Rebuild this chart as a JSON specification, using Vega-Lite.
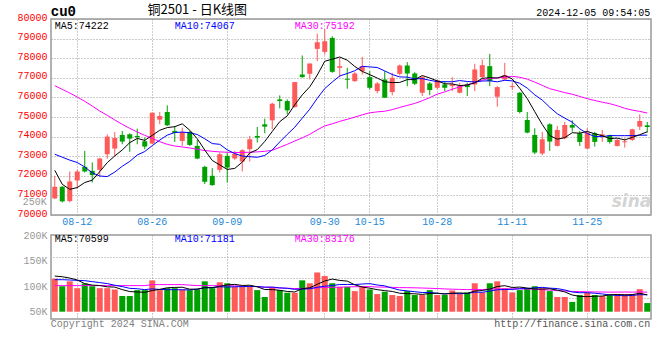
{
"$schema": "https://vega.github.io/schema/vega-lite/v6.json",
"background": "white",
"padding": {"left": 16, "top": 3, "right": 4, "bottom": 4},
"datasets": {"k": [
{"d":"08-07","o":70847,"h":72000,"l":70813,"c":71440,"m5":72280,"m10":73100,"m30":76600,"v":114500,"v5":119700,"v10":112600,"v30":101000},
{"d":"08-08","o":71440,"h":71475,"l":70643,"c":70694,"m5":71565,"m10":72950,"m30":76410,"v":99800,"v5":118400,"v10":112600,"v30":101000},
{"d":"08-09","o":70711,"h":72220,"l":70643,"c":71711,"m5":71310,"m10":72800,"m30":76225,"v":109400,"v5":115800,"v10":112000,"v30":101000},
{"d":"08-12","o":71762,"h":72305,"l":71338,"c":72220,"m5":71400,"m10":72680,"m30":76020,"v":96000,"v5":112000,"v10":111300,"v30":101000},
{"d":"08-13","o":72458,"h":73271,"l":72170,"c":72220,"m5":71657,"m10":72450,"m30":75800,"v":105000,"v5":104900,"v10":110700,"v30":101000},
{"d":"08-14","o":72254,"h":72678,"l":71661,"c":72034,"m5":71776,"m10":72150,"m30":75560,"v":99800,"v5":102000,"v10":108800,"v30":101000},
{"d":"08-15","o":72305,"h":72915,"l":71949,"c":72881,"m5":72213,"m10":71990,"m30":75305,"v":96000,"v5":101200,"v10":106900,"v30":101000},
{"d":"08-16","o":73101,"h":74118,"l":72881,"c":74000,"m5":72671,"m10":71960,"m30":75085,"v":96000,"v5":98600,"v10":105000,"v30":101000},
{"d":"08-19","o":73390,"h":74237,"l":73017,"c":73932,"m5":73013,"m10":72190,"m30":74850,"v":93500,"v5":98100,"v10":101800,"v30":101000},
{"d":"08-20","o":74084,"h":74288,"l":73610,"c":73746,"m5":73319,"m10":72488,"m30":74625,"v":80700,"v5":93200,"v10":99100,"v30":101000},
{"d":"08-21","o":74118,"h":74169,"l":73220,"c":73898,"m5":73691,"m10":72734,"m30":74420,"v":80700,"v5":89400,"v10":95700,"v30":101000},
{"d":"08-22","o":74034,"h":74407,"l":73610,"c":73966,"m5":73908,"m10":73061,"m30":74235,"v":92200,"v5":88600,"v10":94900,"v30":101000},
{"d":"08-23","o":73763,"h":73949,"l":73356,"c":73492,"m5":73807,"m10":73239,"m30":74065,"v":92200,"v5":87900,"v10":93200,"v30":101000},
{"d":"08-26","o":73644,"h":75220,"l":73610,"c":75220,"m5":74064,"m10":73539,"m30":73910,"v":111300,"v5":91400,"v10":94700,"v30":103000},
{"d":"08-27","o":74864,"h":75254,"l":74627,"c":75051,"m5":74325,"m10":73822,"m30":73740,"v":92200,"v5":93700,"v10":93500,"v30":103000},
{"d":"08-28","o":75254,"h":75593,"l":74542,"c":74576,"m5":74461,"m10":74076,"m30":73605,"v":96000,"v5":96800,"v10":93100,"v30":103000},
{"d":"08-29","o":74288,"h":74542,"l":73729,"c":74186,"m5":74505,"m10":74207,"m30":73520,"v":96000,"v5":97500,"v10":93100,"v30":103000},
{"d":"08-30","o":73780,"h":74457,"l":73525,"c":74237,"m5":74654,"m10":74230,"m30":73470,"v":93500,"v5":97800,"v10":92800,"v30":103000},
{"d":"09-02","o":74237,"h":74288,"l":73525,"c":73576,"m5":74325,"m10":74195,"m30":73420,"v":92200,"v5":94000,"v10":92700,"v30":102000},
{"d":"09-03","o":73525,"h":73830,"l":72847,"c":72881,"m5":73891,"m10":74108,"m30":73350,"v":93500,"v5":94200,"v10":94000,"v30":101000},
{"d":"09-04","o":72457,"h":72508,"l":71576,"c":71694,"m5":73315,"m10":73888,"m30":73290,"v":109400,"v5":96900,"v10":96900,"v30":101000},
{"d":"09-05","o":72000,"h":72390,"l":71491,"c":71525,"m5":72783,"m10":73644,"m30":73250,"v":96000,"v5":96900,"v10":97200,"v30":101000},
{"d":"09-06","o":72305,"h":73186,"l":72170,"c":73101,"m5":72555,"m10":73605,"m30":73220,"v":107500,"v5":99700,"v10":98800,"v30":101000},
{"d":"09-09","o":73017,"h":73186,"l":71661,"c":72423,"m5":72325,"m10":73325,"m30":73200,"v":105600,"v5":102400,"v10":98200,"v30":101000},
{"d":"09-10","o":72881,"h":73271,"l":72813,"c":73135,"m5":72376,"m10":73133,"m30":73190,"v":98600,"v5":103400,"v10":98800,"v30":100500},
{"d":"09-11","o":72728,"h":73356,"l":72220,"c":73305,"m5":72698,"m10":73006,"m30":73190,"v":98600,"v5":101300,"v10":99100,"v30":100000},
{"d":"09-12","o":73356,"h":74034,"l":72728,"c":73864,"m5":73166,"m10":72974,"m30":73200,"v":98600,"v5":101800,"v10":99400,"v30":99500},
{"d":"09-13","o":74034,"h":74491,"l":73695,"c":73949,"m5":73335,"m10":72945,"m30":73220,"v":92200,"v5":98700,"v10":99200,"v30":99000},
{"d":"09-18","o":74627,"h":74915,"l":74169,"c":74508,"m5":73752,"m10":73039,"m30":73250,"v":78800,"v5":93400,"v10":97900,"v30":98000},
{"d":"09-19","o":74830,"h":75729,"l":74373,"c":75678,"m5":74261,"m10":73318,"m30":73305,"v":97900,"v5":93200,"v10":98300,"v30":97100},
{"d":"09-20","o":75898,"h":76102,"l":75441,"c":75813,"m5":74762,"m10":73730,"m30":73451,"v":92200,"v5":91900,"v10":96600,"v30":96400},
{"d":"09-23","o":75813,"h":75898,"l":75135,"c":75339,"m5":75057,"m10":74112,"m30":73605,"v":87100,"v5":89600,"v10":95700,"v30":96000},
{"d":"09-24","o":75508,"h":76780,"l":75474,"c":76780,"m5":75624,"m10":74479,"m30":73774,"v":87100,"v5":88600,"v10":93700,"v30":95200},
{"d":"09-25","o":77169,"h":78136,"l":77000,"c":77034,"m5":76129,"m10":74941,"m30":73935,"v":111300,"v5":95100,"v10":94200,"v30":95700},
{"d":"09-26","o":77203,"h":77729,"l":76915,"c":77729,"m5":76539,"m10":75400,"m30":74118,"v":105600,"v5":96700,"v10":94900,"v30":95700},
{"d":"09-27","o":78475,"h":79254,"l":77847,"c":78814,"m5":77139,"m10":75951,"m30":74344,"v":126700,"v5":103600,"v10":97800,"v30":96600},
{"d":"09-30","o":78322,"h":79492,"l":78186,"c":78864,"m5":77844,"m10":76451,"m30":74544,"v":119700,"v5":110100,"v10":99900,"v30":97400},
{"d":"10-08","o":79034,"h":79119,"l":77254,"c":77305,"m5":77949,"m10":76786,"m30":74654,"v":105600,"v5":113800,"v10":101200,"v30":97800},
{"d":"10-09","o":77508,"h":78017,"l":77034,"c":77593,"m5":78061,"m10":77095,"m30":74776,"v":98600,"v5":111200,"v10":103200,"v30":97900},
{"d":"10-10","o":76949,"h":77508,"l":76441,"c":76900,"m5":77898,"m10":77219,"m30":74882,"v":98600,"v5":109800,"v10":103300,"v30":98500},
{"d":"10-11","o":76830,"h":77288,"l":76797,"c":77220,"m5":77579,"m10":77359,"m30":74992,"v":90300,"v5":102600,"v10":103100,"v30":98800},
{"d":"10-14","o":77339,"h":78068,"l":77170,"c":77593,"m5":77325,"m10":77585,"m30":75113,"v":98600,"v5":98300,"v10":104200,"v30":99100},
{"d":"10-15","o":77034,"h":77339,"l":76407,"c":76491,"m5":77162,"m10":77556,"m30":75213,"v":93500,"v5":95900,"v10":104900,"v30":99100},
{"d":"10-16","o":76322,"h":76780,"l":76203,"c":76712,"m5":76986,"m10":77524,"m30":75263,"v":84500,"v5":93100,"v10":102200,"v30":98200},
{"d":"10-17","o":76915,"h":77339,"l":75983,"c":75983,"m5":76800,"m10":77349,"m30":75294,"v":89000,"v5":91200,"v10":100500,"v30":98100},
{"d":"10-18","o":76271,"h":77254,"l":76102,"c":77000,"m5":76756,"m10":77168,"m30":75375,"v":82600,"v5":89600,"v10":96100,"v30":97600},
{"d":"10-21","o":77203,"h":77678,"l":77119,"c":77627,"m5":76763,"m10":77044,"m30":75490,"v":80700,"v5":86100,"v10":92200,"v30":97100},
{"d":"10-22","o":77627,"h":77797,"l":76576,"c":77220,"m5":76908,"m10":77035,"m30":75589,"v":90300,"v5":85400,"v10":90700,"v30":97000},
{"d":"10-23","o":77220,"h":77288,"l":76627,"c":76695,"m5":76905,"m10":76946,"m30":75693,"v":82600,"v5":85000,"v10":89100,"v30":96700},
{"d":"10-24","o":76237,"h":77085,"l":76068,"c":77034,"m5":77115,"m10":76958,"m30":75831,"v":82600,"v5":83800,"v10":87500,"v30":96300},
{"d":"10-25","o":76712,"h":76780,"l":76119,"c":76373,"m5":76990,"m10":76873,"m30":75987,"v":92200,"v5":85700,"v10":87700,"v30":95800},
{"d":"10-28","o":76491,"h":76915,"l":76407,"c":76881,"m5":76841,"m10":76802,"m30":76166,"v":82600,"v5":86100,"v10":86100,"v30":95300},
{"d":"10-29","o":76661,"h":76830,"l":76322,"c":76491,"m5":76695,"m10":76802,"m30":76279,"v":82600,"v5":84500,"v10":85000,"v30":94500},
{"d":"10-30","o":76576,"h":77034,"l":76322,"c":76661,"m5":76688,"m10":76797,"m30":76420,"v":91500,"v5":86300,"v10":85700,"v30":94000},
{"d":"10-31","o":76237,"h":76746,"l":76203,"c":76610,"m5":76603,"m10":76859,"m30":76536,"v":84500,"v5":86700,"v10":85200,"v30":93600},
{"d":"11-01","o":76661,"h":76746,"l":76068,"c":76525,"m5":76634,"m10":76812,"m30":76643,"v":87700,"v5":85800,"v10":85700,"v30":93200},
{"d":"11-04","o":76661,"h":77712,"l":76322,"c":77424,"m5":76742,"m10":76791,"m30":76762,"v":105600,"v5":90400,"v10":88200,"v30":93400},
{"d":"11-05","o":77034,"h":77932,"l":76915,"c":77644,"m5":76973,"m10":76834,"m30":76885,"v":87700,"v5":91400,"v10":88000,"v30":93300},
{"d":"11-06","o":77593,"h":78220,"l":76576,"c":76830,"m5":77007,"m10":76847,"m30":76963,"v":105600,"v5":94200,"v10":90300,"v30":94200},
{"d":"11-07","o":76034,"h":76576,"l":75525,"c":76525,"m5":76990,"m10":76796,"m30":76991,"v":109400,"v5":99200,"v10":92900,"v30":94600},
{"d":"11-08","o":76915,"h":77763,"l":76881,"c":77136,"m5":77112,"m10":76873,"m30":77035,"v":96000,"v5":100900,"v10":93300,"v30":94700},
{"d":"11-11","o":76525,"h":76746,"l":76373,"c":76576,"m5":76942,"m10":76842,"m30":77076,"v":87700,"v5":97300,"v10":93800,"v30":94700},
{"d":"11-12","o":76237,"h":76271,"l":75186,"c":75254,"m5":76464,"m10":76719,"m30":77025,"v":92200,"v5":98200,"v10":94800,"v30":94900},
{"d":"11-13","o":74847,"h":75254,"l":74169,"c":74203,"m5":75939,"m10":76473,"m30":76931,"v":96000,"v5":96300,"v10":95200,"v30":94400},
{"d":"11-14","o":74085,"h":74423,"l":73101,"c":73186,"m5":75271,"m10":76130,"m30":76780,"v":99800,"v5":94300,"v10":96800,"v30":94200},
{"d":"11-15","o":73135,"h":74237,"l":73050,"c":73864,"m5":74617,"m10":75864,"m30":76615,"v":96000,"v5":94300,"v10":97600,"v30":93100},
{"d":"11-18","o":74627,"h":74678,"l":73271,"c":73746,"m5":74051,"m10":75496,"m30":76444,"v":90300,"v5":94900,"v10":96100,"v30":92200},
{"d":"11-19","o":73525,"h":74542,"l":73491,"c":74339,"m5":73868,"m10":75166,"m30":76345,"v":78800,"v5":92200,"v10":95200,"v30":91300},
{"d":"11-20","o":73915,"h":74746,"l":73864,"c":74593,"m5":73946,"m10":74942,"m30":76245,"v":78800,"v5":88700,"v10":92500,"v30":90600},
{"d":"11-21","o":74593,"h":74830,"l":74254,"c":74457,"m5":74200,"m10":74736,"m30":76163,"v":69200,"v5":82600,"v10":88500,"v30":89600},
{"d":"11-22","o":74169,"h":74288,"l":73525,"c":73729,"m5":74173,"m10":74395,"m30":76047,"v":82600,"v5":79900,"v10":87100,"v30":89400},
{"d":"11-25","o":73390,"h":74423,"l":73356,"c":74203,"m5":74264,"m10":74158,"m30":75934,"v":87700,"v5":79400,"v10":87100,"v30":89000},
{"d":"11-26","o":74169,"h":74237,"l":73491,"c":73729,"m5":74142,"m10":74005,"m30":75842,"v":82600,"v5":80200,"v10":86200,"v30":88600},
{"d":"11-27","o":74034,"h":74339,"l":73729,"c":74118,"m5":74047,"m10":73997,"m30":75755,"v":80700,"v5":80600,"v10":84700,"v30":88500},
{"d":"11-28","o":74068,"h":74101,"l":73644,"c":73729,"m5":73902,"m10":74051,"m30":75680,"v":82600,"v5":83200,"v10":82900,"v30":88300},
{"d":"11-29","o":73525,"h":73898,"l":73491,"c":73830,"m5":73922,"m10":74048,"m30":75574,"v":84500,"v5":83600,"v10":81800,"v30":88400},
{"d":"12-02","o":73712,"h":73915,"l":73441,"c":73760,"m5":73831,"m10":74048,"m30":75445,"v":84500,"v5":83000,"v10":81200,"v30":88500},
{"d":"12-03","o":73830,"h":74407,"l":73780,"c":74373,"m5":73959,"m10":74051,"m30":75350,"v":84500,"v5":83400,"v10":81800,"v30":88300},
{"d":"12-04","o":74508,"h":75135,"l":74339,"c":74796,"m5":74095,"m10":74071,"m30":75287,"v":94100,"v5":86000,"v10":83300,"v30":88700},
{"d":"12-05","o":74576,"h":74746,"l":74203,"c":74491,"m5":74247,"m10":74075,"m30":75202,"v":66900,"v5":82900,"v10":83100,"v30":88200}
]},
"data": {"name": "k"},
"bounds": "flush",
"spacing": 20,
"vconcat": [
{
"width": 600, "height": 196,
"layer": [
{"mark": {"type": "rule", "strokeWidth": 1},
 "encoding": {
  "x": {"field": "d", "type": "ordinal", "sort": null, "title": null, "scale": {"paddingInner": 0, "paddingOuter": 0}, "axis": {"values": ["08-12","08-26","09-09","09-30","10-15","10-28","11-11","11-25"], "grid": true, "labelColor": "#1e88d8", "labelAngle": 0, "labelPadding": 1, "title": null}},
  "y": {"field": "l", "type": "quantitative", "title": null, "scale": {"domain": [70000, 80000], "nice": false, "zero": false}, "axis": {"values": [70000,71000,72000,73000,74000,75000,76000,77000,78000,79000,80000], "format": "d", "grid": true, "labelColor": "#ff0000", "labelFlush": false, "labelOverlap": false, "labelOffset": -2, "title": null}},
  "y2": {"field": "h"},
  "color": {"condition": {"test": "datum.c >= datum.o", "value": "#ff5a5a"}, "value": "#00a000"}
 }},
{"mark": {"type": "bar", "width": 5},
 "encoding": {
  "x": {"field": "d", "type": "ordinal", "sort": null, "title": null, "scale": {"paddingInner": 0, "paddingOuter": 0}, "axis": {"values": ["08-12","08-26","09-09","09-30","10-15","10-28","11-11","11-25"], "grid": true, "labelColor": "#1e88d8", "labelAngle": 0, "labelPadding": 1, "title": null}},
  "y": {"field": "o", "type": "quantitative", "title": null, "scale": {"domain": [70000, 80000], "nice": false, "zero": false}, "axis": {"values": [70000,71000,72000,73000,74000,75000,76000,77000,78000,79000,80000], "format": "d", "grid": true, "labelColor": "#ff0000", "labelFlush": false, "labelOverlap": false, "labelOffset": -2, "title": null}},
  "y2": {"field": "c"},
  "color": {"condition": {"test": "datum.c >= datum.o", "value": "#ff5a5a"}, "value": "#00a000"}
 }},
{"mark": {"type": "line", "color": "#ff00ff", "strokeWidth": 1},
 "encoding": {
  "x": {"field": "d", "type": "ordinal", "sort": null, "title": null, "scale": {"paddingInner": 0, "paddingOuter": 0}, "axis": {"values": ["08-12","08-26","09-09","09-30","10-15","10-28","11-11","11-25"], "grid": true, "labelColor": "#1e88d8", "labelAngle": 0, "labelPadding": 1, "title": null}},
  "y": {"field": "m30", "type": "quantitative", "title": null, "scale": {"domain": [70000, 80000], "nice": false, "zero": false}, "axis": {"values": [70000,71000,72000,73000,74000,75000,76000,77000,78000,79000,80000], "format": "d", "grid": true, "labelColor": "#ff0000", "labelFlush": false, "labelOverlap": false, "labelOffset": -2, "title": null}}}},
{"mark": {"type": "line", "color": "#0000ff", "strokeWidth": 1},
 "encoding": {
  "x": {"field": "d", "type": "ordinal", "sort": null, "title": null, "scale": {"paddingInner": 0, "paddingOuter": 0}, "axis": {"values": ["08-12","08-26","09-09","09-30","10-15","10-28","11-11","11-25"], "grid": true, "labelColor": "#1e88d8", "labelAngle": 0, "labelPadding": 1, "title": null}},
  "y": {"field": "m10", "type": "quantitative", "title": null, "scale": {"domain": [70000, 80000], "nice": false, "zero": false}, "axis": {"values": [70000,71000,72000,73000,74000,75000,76000,77000,78000,79000,80000], "format": "d", "grid": true, "labelColor": "#ff0000", "labelFlush": false, "labelOverlap": false, "labelOffset": -2, "title": null}}}},
{"mark": {"type": "line", "color": "#000000", "strokeWidth": 1},
 "encoding": {
  "x": {"field": "d", "type": "ordinal", "sort": null, "title": null, "scale": {"paddingInner": 0, "paddingOuter": 0}, "axis": {"values": ["08-12","08-26","09-09","09-30","10-15","10-28","11-11","11-25"], "grid": true, "labelColor": "#1e88d8", "labelAngle": 0, "labelPadding": 1, "title": null}},
  "y": {"field": "m5", "type": "quantitative", "title": null, "scale": {"domain": [70000, 80000], "nice": false, "zero": false}, "axis": {"values": [70000,71000,72000,73000,74000,75000,76000,77000,78000,79000,80000], "format": "d", "grid": true, "labelColor": "#ff0000", "labelFlush": false, "labelOverlap": false, "labelOffset": -2, "title": null}}}},
{"data": {"values": [{}]}, "mark": {"type": "text", "align": "right", "baseline": "middle", "dx": 4, "font": "DejaVu Sans", "fontSize": 17, "fontWeight": "bold", "fontStyle": "italic", "color": "#d4d4d4"},
 "encoding": {
  "x": {"datum": "12-05", "type": "ordinal", "title": null, "scale": {"paddingInner": 0, "paddingOuter": 0}, "axis": {"values": ["08-12","08-26","09-09","09-30","10-15","10-28","11-11","11-25"], "grid": true, "labelColor": "#1e88d8", "labelAngle": 0, "labelPadding": 1, "title": null}},
  "y": {"datum": 70660, "type": "quantitative", "title": null, "scale": {"domain": [70000, 80000], "nice": false, "zero": false}, "axis": {"values": [70000,71000,72000,73000,74000,75000,76000,77000,78000,79000,80000], "format": "d", "grid": true, "labelColor": "#ff0000", "labelFlush": false, "labelOverlap": false, "labelOffset": -2, "title": null}},
  "text": {"value": "sina"}}},
{"data": {"values": [{}]}, "mark": {"type": "text", "align": "left", "baseline": "middle", "color": "#000000"},
 "encoding": {
  "x": {"datum": "08-07", "type": "ordinal", "title": null, "scale": {"paddingInner": 0, "paddingOuter": 0}, "axis": {"values": ["08-12","08-26","09-09","09-30","10-15","10-28","11-11","11-25"], "grid": true, "labelColor": "#1e88d8", "labelAngle": 0, "labelPadding": 1, "title": null}},
  "y": {"datum": 79660, "type": "quantitative", "title": null, "scale": {"domain": [70000, 80000], "nice": false, "zero": false}, "axis": {"values": [70000,71000,72000,73000,74000,75000,76000,77000,78000,79000,80000], "format": "d", "grid": true, "labelColor": "#ff0000", "labelFlush": false, "labelOverlap": false, "labelOffset": -2, "title": null}},
  "text": {"value": "MA5:74222"}}},
{"data": {"values": [{}]}, "mark": {"type": "text", "align": "left", "baseline": "middle", "color": "#0000ff"},
 "encoding": {
  "x": {"datum": "08-29", "type": "ordinal", "title": null, "scale": {"paddingInner": 0, "paddingOuter": 0}, "axis": {"values": ["08-12","08-26","09-09","09-30","10-15","10-28","11-11","11-25"], "grid": true, "labelColor": "#1e88d8", "labelAngle": 0, "labelPadding": 1, "title": null}},
  "y": {"datum": 79660, "type": "quantitative", "title": null, "scale": {"domain": [70000, 80000], "nice": false, "zero": false}, "axis": {"values": [70000,71000,72000,73000,74000,75000,76000,77000,78000,79000,80000], "format": "d", "grid": true, "labelColor": "#ff0000", "labelFlush": false, "labelOverlap": false, "labelOffset": -2, "title": null}},
  "text": {"value": "MA10:74067"}}},
{"data": {"values": [{}]}, "mark": {"type": "text", "align": "left", "baseline": "middle", "color": "#ff00ff"},
 "encoding": {
  "x": {"datum": "09-24", "type": "ordinal", "title": null, "scale": {"paddingInner": 0, "paddingOuter": 0}, "axis": {"values": ["08-12","08-26","09-09","09-30","10-15","10-28","11-11","11-25"], "grid": true, "labelColor": "#1e88d8", "labelAngle": 0, "labelPadding": 1, "title": null}},
  "y": {"datum": 79660, "type": "quantitative", "title": null, "scale": {"domain": [70000, 80000], "nice": false, "zero": false}, "axis": {"values": [70000,71000,72000,73000,74000,75000,76000,77000,78000,79000,80000], "format": "d", "grid": true, "labelColor": "#ff0000", "labelFlush": false, "labelOverlap": false, "labelOffset": -2, "title": null}},
  "text": {"value": "MA30:75192"}}},
{"data": {"values": [{}]}, "mark": {"type": "text", "align": "left", "baseline": "middle", "dx": -4, "fontSize": 14, "fontWeight": "bold", "color": "#000000"},
 "encoding": {
  "x": {"datum": "08-07", "type": "ordinal", "title": null, "scale": {"paddingInner": 0, "paddingOuter": 0}, "axis": {"values": ["08-12","08-26","09-09","09-30","10-15","10-28","11-11","11-25"], "grid": true, "labelColor": "#1e88d8", "labelAngle": 0, "labelPadding": 1, "title": null}},
  "y": {"datum": 80360, "type": "quantitative", "title": null, "scale": {"domain": [70000, 80000], "nice": false, "zero": false}, "axis": {"values": [70000,71000,72000,73000,74000,75000,76000,77000,78000,79000,80000], "format": "d", "grid": true, "labelColor": "#ff0000", "labelFlush": false, "labelOverlap": false, "labelOffset": -2, "title": null}},
  "text": {"value": "cu0"}}},
{"data": {"values": [{}]}, "mark": {"type": "text", "align": "center", "baseline": "middle", "font": "Noto Sans CJK SC", "fontSize": 13, "color": "#000000"},
 "encoding": {
  "x": {"datum": "09-03", "type": "ordinal", "title": null, "scale": {"paddingInner": 0, "paddingOuter": 0}, "axis": {"values": ["08-12","08-26","09-09","09-30","10-15","10-28","11-11","11-25"], "grid": true, "labelColor": "#1e88d8", "labelAngle": 0, "labelPadding": 1, "title": null}},
  "y": {"datum": 80434, "type": "quantitative", "title": null, "scale": {"domain": [70000, 80000], "nice": false, "zero": false}, "axis": {"values": [70000,71000,72000,73000,74000,75000,76000,77000,78000,79000,80000], "format": "d", "grid": true, "labelColor": "#ff0000", "labelFlush": false, "labelOverlap": false, "labelOffset": -2, "title": null}},
  "text": {"value": "铜2501 - 日K线图"}}},
{"data": {"values": [{}]}, "mark": {"type": "text", "align": "right", "baseline": "middle", "dx": 3, "color": "#000000"},
 "encoding": {
  "x": {"datum": "12-05", "type": "ordinal", "title": null, "scale": {"paddingInner": 0, "paddingOuter": 0}, "axis": {"values": ["08-12","08-26","09-09","09-30","10-15","10-28","11-11","11-25"], "grid": true, "labelColor": "#1e88d8", "labelAngle": 0, "labelPadding": 1, "title": null}},
  "y": {"datum": 80306, "type": "quantitative", "title": null, "scale": {"domain": [70000, 80000], "nice": false, "zero": false}, "axis": {"values": [70000,71000,72000,73000,74000,75000,76000,77000,78000,79000,80000], "format": "d", "grid": true, "labelColor": "#ff0000", "labelFlush": false, "labelOverlap": false, "labelOffset": -2, "title": null}},
  "text": {"value": "2024-12-05 09:54:05"}}}
]
},
{
"width": 600, "height": 84,
"layer": [
{"layer": [
 {"mark": {"type": "bar", "width": 6},
  "encoding": {
   "x": {"field": "d", "type": "ordinal", "sort": null, "title": null, "scale": {"paddingInner": 0, "paddingOuter": 0}, "axis": {"values": ["08-12","08-26","09-09","09-30","10-15","10-28","11-11","11-25"], "grid": true, "labels": false, "title": null}},
   "y": {"field": "v", "type": "quantitative", "title": null, "scale": {"domain": [35724, 200000], "nice": false, "zero": false}, "axis": {"values": [50000,100000,150000,200000], "labelExpr": "datum.value / 1000 + 'K'", "labelColor": "#999999", "grid": false, "labelFlush": false, "labelOverlap": false, "title": null}},
   "y2": {"datum": 50000},
   "color": {"condition": {"test": "datum.c >= datum.o", "value": "#ff5a5a"}, "value": "#00a000"}
  }},
 {"mark": {"type": "line", "color": "#ff00ff", "strokeWidth": 1},
  "encoding": {
   "x": {"field": "d", "type": "ordinal", "sort": null, "title": null, "scale": {"paddingInner": 0, "paddingOuter": 0}, "axis": {"values": ["08-12","08-26","09-09","09-30","10-15","10-28","11-11","11-25"], "grid": true, "labels": false, "title": null}},
   "y": {"field": "v30", "type": "quantitative", "title": null, "scale": {"domain": [35724, 200000], "nice": false, "zero": false}, "axis": {"values": [50000,100000,150000,200000], "labelExpr": "datum.value / 1000 + 'K'", "labelColor": "#999999", "grid": false, "labelFlush": false, "labelOverlap": false, "title": null}}}},
 {"mark": {"type": "line", "color": "#0000ff", "strokeWidth": 1},
  "encoding": {
   "x": {"field": "d", "type": "ordinal", "sort": null, "title": null, "scale": {"paddingInner": 0, "paddingOuter": 0}, "axis": {"values": ["08-12","08-26","09-09","09-30","10-15","10-28","11-11","11-25"], "grid": true, "labels": false, "title": null}},
   "y": {"field": "v10", "type": "quantitative", "title": null, "scale": {"domain": [35724, 200000], "nice": false, "zero": false}, "axis": {"values": [50000,100000,150000,200000], "labelExpr": "datum.value / 1000 + 'K'", "labelColor": "#999999", "grid": false, "labelFlush": false, "labelOverlap": false, "title": null}}}},
 {"mark": {"type": "line", "color": "#000000", "strokeWidth": 1},
  "encoding": {
   "x": {"field": "d", "type": "ordinal", "sort": null, "title": null, "scale": {"paddingInner": 0, "paddingOuter": 0}, "axis": {"values": ["08-12","08-26","09-09","09-30","10-15","10-28","11-11","11-25"], "grid": true, "labels": false, "title": null}},
   "y": {"field": "v5", "type": "quantitative", "title": null, "scale": {"domain": [35724, 200000], "nice": false, "zero": false}, "axis": {"values": [50000,100000,150000,200000], "labelExpr": "datum.value / 1000 + 'K'", "labelColor": "#999999", "grid": false, "labelFlush": false, "labelOverlap": false, "title": null}}}},
 {"data": {"values": [{}]}, "mark": {"type": "text", "align": "left", "baseline": "middle", "color": "#000000"},
  "encoding": {
   "x": {"datum": "08-07", "type": "ordinal", "title": null, "scale": {"paddingInner": 0, "paddingOuter": 0}, "axis": {"values": ["08-12","08-26","09-09","09-30","10-15","10-28","11-11","11-25"], "grid": true, "labels": false, "title": null}},
   "y": {"datum": 192500, "type": "quantitative", "title": null, "scale": {"domain": [35724, 200000], "nice": false, "zero": false}, "axis": {"values": [50000,100000,150000,200000], "labelExpr": "datum.value / 1000 + 'K'", "labelColor": "#999999", "grid": false, "labelFlush": false, "labelOverlap": false, "title": null}},
   "text": {"value": "MA5:70599"}}},
 {"data": {"values": [{}]}, "mark": {"type": "text", "align": "left", "baseline": "middle", "color": "#0000ff"},
  "encoding": {
   "x": {"datum": "08-29", "type": "ordinal", "title": null, "scale": {"paddingInner": 0, "paddingOuter": 0}, "axis": {"values": ["08-12","08-26","09-09","09-30","10-15","10-28","11-11","11-25"], "grid": true, "labels": false, "title": null}},
   "y": {"datum": 192500, "type": "quantitative", "title": null, "scale": {"domain": [35724, 200000], "nice": false, "zero": false}, "axis": {"values": [50000,100000,150000,200000], "labelExpr": "datum.value / 1000 + 'K'", "labelColor": "#999999", "grid": false, "labelFlush": false, "labelOverlap": false, "title": null}},
   "text": {"value": "MA10:71181"}}},
 {"data": {"values": [{}]}, "mark": {"type": "text", "align": "left", "baseline": "middle", "color": "#ff00ff"},
  "encoding": {
   "x": {"datum": "09-24", "type": "ordinal", "title": null, "scale": {"paddingInner": 0, "paddingOuter": 0}, "axis": {"values": ["08-12","08-26","09-09","09-30","10-15","10-28","11-11","11-25"], "grid": true, "labels": false, "title": null}},
   "y": {"datum": 192500, "type": "quantitative", "title": null, "scale": {"domain": [35724, 200000], "nice": false, "zero": false}, "axis": {"values": [50000,100000,150000,200000], "labelExpr": "datum.value / 1000 + 'K'", "labelColor": "#999999", "grid": false, "labelFlush": false, "labelOverlap": false, "title": null}},
   "text": {"value": "MA30:83176"}}},
 {"data": {"values": [{}]}, "mark": {"type": "text", "align": "right", "baseline": "middle", "dx": -8, "color": "#999999"},
  "encoding": {
   "x": {"datum": "08-07", "type": "ordinal", "title": null, "scale": {"paddingInner": 0, "paddingOuter": 0}, "axis": {"values": ["08-12","08-26","09-09","09-30","10-15","10-28","11-11","11-25"], "grid": true, "labels": false, "title": null}},
   "y": {"datum": 264500, "type": "quantitative", "title": null, "scale": {"domain": [35724, 200000], "nice": false, "zero": false}, "axis": {"values": [50000,100000,150000,200000], "labelExpr": "datum.value / 1000 + 'K'", "labelColor": "#999999", "grid": false, "labelFlush": false, "labelOverlap": false, "title": null}},
   "text": {"value": "250K"}}},
 {"data": {"values": [{}]}, "mark": {"type": "text", "align": "left", "baseline": "middle", "dx": -4, "color": "#808080"},
  "encoding": {
   "x": {"datum": "08-07", "type": "ordinal", "title": null, "scale": {"paddingInner": 0, "paddingOuter": 0}, "axis": {"values": ["08-12","08-26","09-09","09-30","10-15","10-28","11-11","11-25"], "grid": true, "labels": false, "title": null}},
   "y": {"datum": 25400, "type": "quantitative", "title": null, "scale": {"domain": [35724, 200000], "nice": false, "zero": false}, "axis": {"values": [50000,100000,150000,200000], "labelExpr": "datum.value / 1000 + 'K'", "labelColor": "#999999", "grid": false, "labelFlush": false, "labelOverlap": false, "title": null}},
   "text": {"value": "Copyright 2024 SINA.COM"}}},
 {"data": {"values": [{}]}, "mark": {"type": "text", "align": "right", "baseline": "middle", "dx": 3, "color": "#555555"},
  "encoding": {
   "x": {"datum": "12-05", "type": "ordinal", "title": null, "scale": {"paddingInner": 0, "paddingOuter": 0}, "axis": {"values": ["08-12","08-26","09-09","09-30","10-15","10-28","11-11","11-25"], "grid": true, "labels": false, "title": null}},
   "y": {"datum": 25400, "type": "quantitative", "title": null, "scale": {"domain": [35724, 200000], "nice": false, "zero": false}, "axis": {"values": [50000,100000,150000,200000], "labelExpr": "datum.value / 1000 + 'K'", "labelColor": "#999999", "grid": false, "labelFlush": false, "labelOverlap": false, "title": null}},
   "text": {"value": "http://finance.sina.com.cn"}}}
]},
{"mark": {"type": "rule", "opacity": 0},
 "encoding": {"y": {"field": "v", "type": "quantitative", "title": null, "scale": {"domain": [35724, 200000], "nice": false, "zero": false},
   "axis": {"orient": "right", "values": [76300, 116700, 157100], "grid": true, "labels": false, "title": null}}}}
],
"resolve": {"scale": {"y": "independent"}}
}
],
"config": {
 "view": {"stroke": "#999999", "strokeWidth": 1.5, "fill": "white"},
 "font": "Liberation Mono",
 "axis": {"labelFont": "Liberation Mono", "labelFontSize": 10, "ticks": false, "tickSize": 0, "domain": false, "grid": true, "gridColor": "#999999", "gridDash": [1, 2], "gridWidth": 1, "labelPadding": 4},
 "text": {"font": "Liberation Mono", "fontSize": 10}
}
}
